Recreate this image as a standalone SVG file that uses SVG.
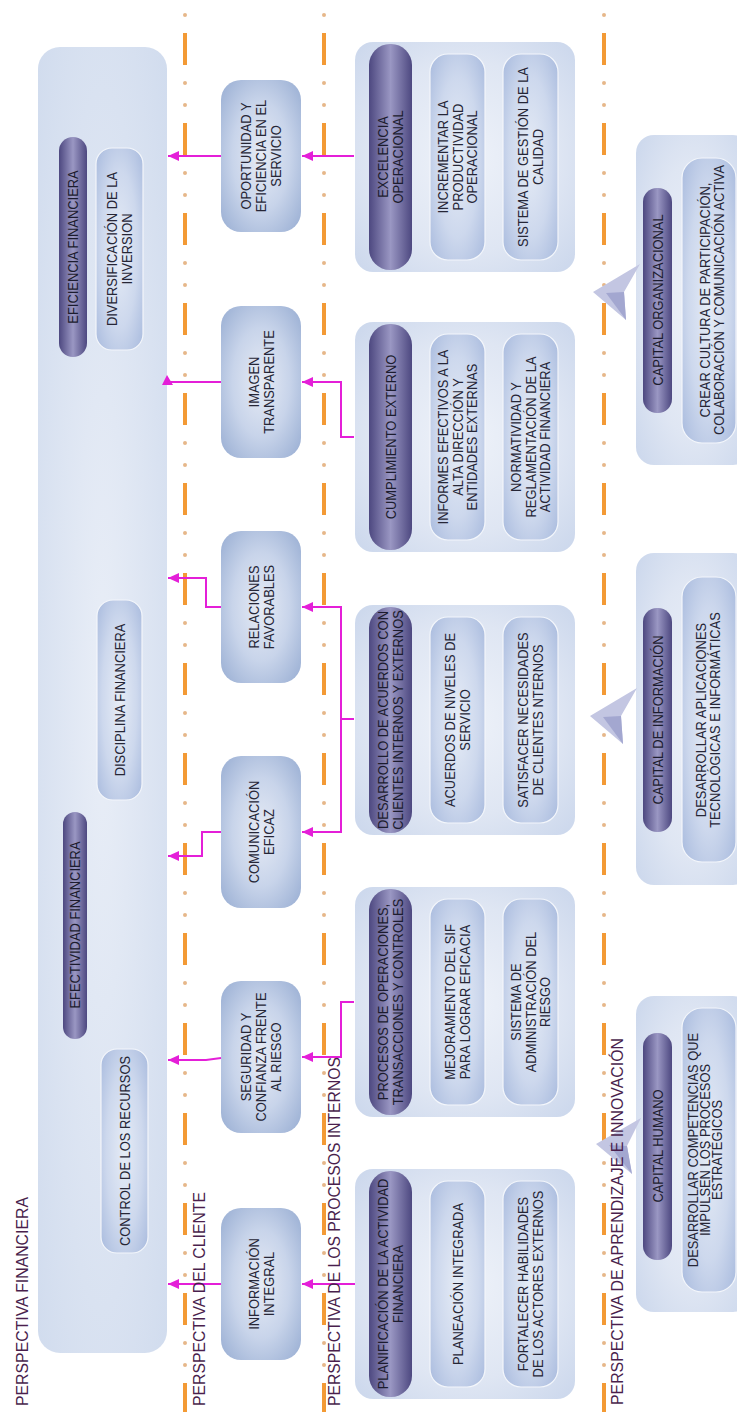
<svg xmlns="http://www.w3.org/2000/svg" width="737" height="1412" viewBox="0 0 737 1412">
<style>
.t{font-family:"Liberation Sans",Arial,sans-serif;font-size:14.5px;fill:#262636;text-anchor:middle}
.tp{font-family:"Liberation Sans",Arial,sans-serif;font-size:14.5px;fill:#1c1c2e;text-anchor:middle}
.h{font-family:"Liberation Sans",Arial,sans-serif;font-size:16.5px;fill:#4a1f4d}
.panel{fill:url(#gPanel)}
.box{fill:url(#gBox)}
.inner{fill:url(#gInner);stroke:#f3f6fb;stroke-width:1.2}
.pill{fill:url(#gPill)}
.dash{stroke:#f39a35;stroke-width:4;fill:none;stroke-dasharray:32 58}
.dot{stroke:#e6b789;stroke-width:4;fill:none;stroke-linecap:round;stroke-dasharray:0 22 0 68}
.c{stroke:#e41fd8;stroke-width:2;fill:none}
.ca{stroke:#e41fd8;stroke-width:2;fill:none;marker-end:url(#arr)}
.chl{fill:#c3c6e2}
.chd{fill:#a3a7d0}
</style>
<defs>
<radialGradient id="gPanel" cx="0.5" cy="0.5" r="0.7">
<stop offset="0" stop-color="#eef2f9"/>
<stop offset="0.6" stop-color="#dfe6f3"/>
<stop offset="1" stop-color="#cbd7ec"/>
</radialGradient>
<radialGradient id="gFin" cx="0.5" cy="0.5" r="0.7">
<stop offset="0" stop-color="#e9eef7"/>
<stop offset="1" stop-color="#d1dcee"/>
</radialGradient>
<radialGradient id="gBox" cx="0.5" cy="0.5" r="0.65">
<stop offset="0" stop-color="#e6ebf5"/>
<stop offset="0.55" stop-color="#c8d4ea"/>
<stop offset="1" stop-color="#9fb3d6"/>
</radialGradient>
<radialGradient id="gInner" cx="0.5" cy="0.5" r="0.65">
<stop offset="0" stop-color="#e6ecf6"/>
<stop offset="0.6" stop-color="#cdd8ed"/>
<stop offset="1" stop-color="#aebfe0"/>
</radialGradient>
<linearGradient id="gPill" x1="0" y1="0" x2="1" y2="0">
<stop offset="0" stop-color="#4d4880"/>
<stop offset="0.5" stop-color="#9a97c3"/>
<stop offset="1" stop-color="#4d4880"/>
</linearGradient>
<marker id="arr" markerUnits="userSpaceOnUse" markerWidth="12" markerHeight="10" refX="11" refY="5" orient="auto">
<path d="M0,0 L11,5 L0,10 z" fill="#e41fd8"/>
</marker>
</defs>

<g id="dividers">
<path class="dash" d="M185,-57 V1412"/>
<path class="dot" d="M185,-7 V1412"/>
<path class="dash" d="M324,-57 V1412"/>
<path class="dot" d="M324,-7 V1412"/>
<path class="dash" d="M604,-57 V1412"/>
<path class="dot" d="M604,-7 V1412"/>
</g>

<g id="financiera">
<rect x="38" y="47" width="129" height="1306" rx="22" fill="url(#gFin)"/>
</g>
<g id="eficiencia-financiera">
<rect class="pill" x="59" y="137" width="28" height="220" rx="14"/>
<text class="tp" transform="translate(73,247) rotate(-90) scale(0.89,1)"><tspan x="0" y="5">EFICIENCIA FINANCIERA</tspan></text>
</g>
<g id="diversificacion">
<rect class="inner" x="96" y="148" width="47" height="202" rx="16"/>
<text class="t" transform="translate(119.5,249) rotate(-90) scale(0.89,1)"><tspan x="0" y="-2.5">DIVERSIFICACIÓN DE LA</tspan><tspan x="0" y="12.5">INVERSION</tspan></text>
</g>
<g id="disciplina">
<rect class="inner" x="97" y="600" width="45" height="200" rx="16"/>
<text class="t" transform="translate(119.5,700) rotate(-90) scale(0.89,1)"><tspan x="0" y="5">DISCIPLINA FINANCIERA</tspan></text>
</g>
<g id="efectividad-financiera">
<rect class="pill" x="63" y="812" width="24" height="227" rx="12"/>
<text class="tp" transform="translate(75,925) rotate(-90) scale(0.89,1)"><tspan x="0" y="5">EFECTIVIDAD FINANCIERA</tspan></text>
</g>
<g id="control">
<rect class="inner" x="101" y="1049" width="47" height="204" rx="16"/>
<text class="t" transform="translate(124.5,1151) rotate(-90) scale(0.89,1)"><tspan x="0" y="5">CONTROL DE LOS RECURSOS</tspan></text>
</g>

<g id="oportunidad">
<rect class="box" x="221" y="80" width="80" height="152" rx="20"/>
<text class="t" transform="translate(261,156) rotate(-90) scale(0.89,1)"><tspan x="0" y="-10">OPORTUNIDAD Y</tspan><tspan x="0" y="5">EFICIENCIA EN EL</tspan><tspan x="0" y="20">SERVICIO</tspan></text>
</g>
<g id="imagen">
<rect class="box" x="221" y="306" width="80" height="152" rx="20"/>
<text class="t" transform="translate(261,382) rotate(-90) scale(0.89,1)"><tspan x="0" y="-2.5">IMAGEN</tspan><tspan x="0" y="12.5">TRANSPARENTE</tspan></text>
</g>
<g id="relaciones">
<rect class="box" x="221" y="531" width="80" height="152" rx="20"/>
<text class="t" transform="translate(261,607) rotate(-90) scale(0.89,1)"><tspan x="0" y="-2.5">RELACIONES</tspan><tspan x="0" y="12.5">FAVORABLES</tspan></text>
</g>
<g id="comunicacion">
<rect class="box" x="221" y="756" width="80" height="152" rx="20"/>
<text class="t" transform="translate(261,832) rotate(-90) scale(0.89,1)"><tspan x="0" y="-2.5">COMUNICACIÓN</tspan><tspan x="0" y="12.5">EFICAZ</tspan></text>
</g>
<g id="seguridad">
<rect class="box" x="221" y="981" width="80" height="152" rx="20"/>
<text class="t" transform="translate(261,1057) rotate(-90) scale(0.89,1)"><tspan x="0" y="-10">SEGURIDAD Y</tspan><tspan x="0" y="5">CONFIANZA FRENTE</tspan><tspan x="0" y="20">AL RIESGO</tspan></text>
</g>
<g id="informacion">
<rect class="box" x="221" y="1208" width="80" height="152" rx="20"/>
<text class="t" transform="translate(261,1284) rotate(-90) scale(0.89,1)"><tspan x="0" y="-2.5">INFORMACIÓN</tspan><tspan x="0" y="12.5">INTEGRAL</tspan></text>
</g>

<g id="excelencia">
<rect class="panel" x="355" y="42" width="220" height="230" rx="18"/>
<rect class="pill" x="369" y="44" width="43" height="226" rx="21"/>
<text class="tp" transform="translate(390.5,157) rotate(-90) scale(0.89,1)"><tspan x="0" y="-2.5">EXCELENCIA</tspan><tspan x="0" y="12.5">OPERACIONAL</tspan></text>
<rect class="inner" x="430" y="54" width="55" height="206" rx="18"/>
<text class="t" transform="translate(457.5,157) rotate(-90) scale(0.89,1)"><tspan x="0" y="-10">INCREMENTAR LA</tspan><tspan x="0" y="5">PRODUCTIVIDAD</tspan><tspan x="0" y="20">OPERACIONAL</tspan></text>
<rect class="inner" x="503" y="54" width="55" height="206" rx="18"/>
<text class="t" transform="translate(530.5,157) rotate(-90) scale(0.89,1)"><tspan x="0" y="-2.5">SISTEMA DE GESTIÓN DE LA</tspan><tspan x="0" y="12.5">CALIDAD</tspan></text>
</g>
<g id="cumplimiento">
<rect class="panel" x="355" y="322" width="220" height="230" rx="18"/>
<rect class="pill" x="369" y="324" width="43" height="226" rx="21"/>
<text class="tp" transform="translate(390.5,437) rotate(-90) scale(0.89,1)"><tspan x="0" y="5">CUMPLIMIENTO EXTERNO</tspan></text>
<rect class="inner" x="430" y="334" width="55" height="206" rx="18"/>
<text class="t" transform="translate(457.5,437) rotate(-90) scale(0.89,1)"><tspan x="0" y="-10">INFORMES EFECTIVOS A LA</tspan><tspan x="0" y="5">ALTA DIRECCIÓN Y</tspan><tspan x="0" y="20">ENTIDADES EXTERNAS</tspan></text>
<rect class="inner" x="503" y="334" width="55" height="206" rx="18"/>
<text class="t" transform="translate(530.5,437) rotate(-90) scale(0.89,1)"><tspan x="0" y="-10">NORMATIVIDAD Y</tspan><tspan x="0" y="5">REGLAMENTACIÓN DE LA</tspan><tspan x="0" y="20">ACTIVIDAD FINANCIERA</tspan></text>
</g>
<g id="desarrollo">
<rect class="panel" x="355" y="605" width="220" height="230" rx="18"/>
<rect class="pill" x="369" y="607" width="43" height="226" rx="21"/>
<text class="tp" transform="translate(390.5,720) rotate(-90) scale(0.89,1)"><tspan x="0" y="-2.5">DESARROLLO DE ACUERDOS CON</tspan><tspan x="0" y="12.5">CLIENTES INTERNOS Y EXTERNOS</tspan></text>
<rect class="inner" x="430" y="617" width="55" height="206" rx="18"/>
<text class="t" transform="translate(457.5,720) rotate(-90) scale(0.89,1)"><tspan x="0" y="-2.5">ACUERDOS DE NIVELES DE</tspan><tspan x="0" y="12.5">SERVICIO</tspan></text>
<rect class="inner" x="503" y="617" width="55" height="206" rx="18"/>
<text class="t" transform="translate(530.5,720) rotate(-90) scale(0.89,1)"><tspan x="0" y="-2.5">SATISFACER NECESIDADES</tspan><tspan x="0" y="12.5">DE CLIENTES NTERNOS</tspan></text>
</g>
<g id="procesos">
<rect class="panel" x="355" y="887" width="220" height="230" rx="18"/>
<rect class="pill" x="369" y="889" width="43" height="226" rx="21"/>
<text class="tp" transform="translate(390.5,1002) rotate(-90) scale(0.89,1)"><tspan x="0" y="-2.5">PROCESOS DE OPERACIONES,</tspan><tspan x="0" y="12.5">TRANSACCIONES Y CONTROLES</tspan></text>
<rect class="inner" x="430" y="899" width="55" height="206" rx="18"/>
<text class="t" transform="translate(457.5,1002) rotate(-90) scale(0.89,1)"><tspan x="0" y="-2.5">MEJORAMIENTO DEL SIF</tspan><tspan x="0" y="12.5">PARA LOGRAR EFICACIA</tspan></text>
<rect class="inner" x="503" y="899" width="55" height="206" rx="18"/>
<text class="t" transform="translate(530.5,1002) rotate(-90) scale(0.89,1)"><tspan x="0" y="-10">SISTEMA DE</tspan><tspan x="0" y="5">ADMINISTRACIÓN DEL</tspan><tspan x="0" y="20">RIESGO</tspan></text>
</g>
<g id="planificacion">
<rect class="panel" x="355" y="1169" width="220" height="230" rx="18"/>
<rect class="pill" x="369" y="1171" width="43" height="226" rx="21"/>
<text class="tp" transform="translate(390.5,1284) rotate(-90) scale(0.89,1)"><tspan x="0" y="-2.5">PLANIFICACIÓN DE LA ACTIVIDAD</tspan><tspan x="0" y="12.5">FINANCIERA</tspan></text>
<rect class="inner" x="430" y="1181" width="55" height="206" rx="18"/>
<text class="t" transform="translate(457.5,1284) rotate(-90) scale(0.89,1)"><tspan x="0" y="5">PLANEACIÓN INTEGRADA</tspan></text>
<rect class="inner" x="503" y="1181" width="55" height="206" rx="18"/>
<text class="t" transform="translate(530.5,1284) rotate(-90) scale(0.89,1)"><tspan x="0" y="-2.5">FORTALECER HABILIDADES</tspan><tspan x="0" y="12.5">DE LOS ACTORES EXTERNOS</tspan></text>
</g>

<g id="capital-organizacional">
<rect class="panel" x="636" y="135" width="115" height="330" rx="18"/>
<rect class="pill" x="643" y="188" width="29" height="225" rx="14"/>
<text class="tp" transform="translate(657.5,300) rotate(-90) scale(0.89,1)"><tspan x="0" y="5">CAPITAL ORGANIZACIONAL</tspan></text>
<rect class="inner" x="682" y="158" width="54" height="285" rx="20"/>
<text class="t" transform="translate(712,300) rotate(-90) scale(0.89,1)"><tspan x="0" y="-1.75">CREAR CULTURA DE PARTICIPACIÓN,</tspan><tspan x="0" y="11.75">COLABORACIÓN Y COMUNICACIÓN ACTIVA</tspan></text>
</g>
<g id="capital-informacion">
<rect class="panel" x="636" y="553" width="115" height="332" rx="18"/>
<rect class="pill" x="643" y="608" width="29" height="224" rx="14"/>
<text class="tp" transform="translate(657.5,720) rotate(-90) scale(0.89,1)"><tspan x="0" y="5">CAPITAL DE INFORMACIÓN</tspan></text>
<rect class="inner" x="682" y="577" width="54" height="285" rx="20"/>
<text class="t" transform="translate(708,720) rotate(-90) scale(0.89,1)"><tspan x="0" y="-1.75">DESARROLLAR APLICACIONES</tspan><tspan x="0" y="11.75">TECNOLÓGICAS E INFORMÁTICAS</tspan></text>
</g>
<g id="capital-humano">
<rect class="panel" x="636" y="996" width="115" height="316" rx="18"/>
<rect class="pill" x="643" y="1033" width="29" height="227" rx="14"/>
<text class="tp" transform="translate(657.5,1146) rotate(-90) scale(0.89,1)"><tspan x="0" y="5">CAPITAL HUMANO</tspan></text>
<rect class="inner" x="682" y="1008" width="54" height="284" rx="20"/>
<text class="t" transform="translate(705,1150) rotate(-90) scale(0.89,1)"><tspan x="0" y="-7.5">DESARROLLAR COMPETENCIAS QUE</tspan><tspan x="0" y="5">IMPULSEN LOS PROCESOS</tspan><tspan x="0" y="17.5">ESTRATÉGICOS</tspan></text>
</g>

<g id="chevrons">
<polygon class="chl" points="593,292 640,264 624,292 626,320"/>
<polygon class="chd" points="606,293 624,292 626,320"/>
<polygon class="chl" points="590,716 637,688 621,716 623,744"/>
<polygon class="chd" points="603,717 621,716 623,744"/>
<polygon class="chl" points="596,1144 641,1118 627,1146 632,1174"/>
<polygon class="chd" points="609,1145 627,1146 632,1174"/>
</g>

<g id="connectors">
<path class="ca" d="M354,156 H302"/>
<path class="ca" d="M221,156 H168"/>
<path class="ca" d="M354,437 H341 V382 H302"/>
<path class="c" d="M221,382 H166"/>
<polygon points="162,385 167,375 173,385" fill="#e41fd8"/>
<path class="c" d="M354,719 H341"/>
<path class="c" d="M341,606 V833"/>
<path class="ca" d="M341,607 H302"/>
<path class="ca" d="M341,832 H302"/>
<path class="ca" d="M221,607 H206 V578 H168"/>
<path class="ca" d="M221,832 H202 V856 H168"/>
<path class="ca" d="M354,1002 H341 V1057 H302"/>
<path class="ca" d="M221,1058 L206,1060 H168"/>
<path class="ca" d="M355,1284 H302"/>
<path class="ca" d="M221,1284 H168"/>
</g>

<g id="headers">
<text class="h" transform="translate(28,1406) rotate(-90)" textLength="209" lengthAdjust="spacingAndGlyphs">PERSPECTIVA FINANCIERA</text>
<text class="h" transform="translate(205,1406) rotate(-90)" textLength="214" lengthAdjust="spacingAndGlyphs">PERSPECTIVA DEL CLIENTE</text>
<text class="h" transform="translate(340,1406) rotate(-90)" textLength="349" lengthAdjust="spacingAndGlyphs">PERSPECTIVA DE LOS PROCESOS INTERNOS</text>
<text class="h" transform="translate(623,1405) rotate(-90)" textLength="367" lengthAdjust="spacingAndGlyphs">PERSPECTIVA DE APRENDIZAJE E INNOVACIÓN</text>
</g>
</svg>
